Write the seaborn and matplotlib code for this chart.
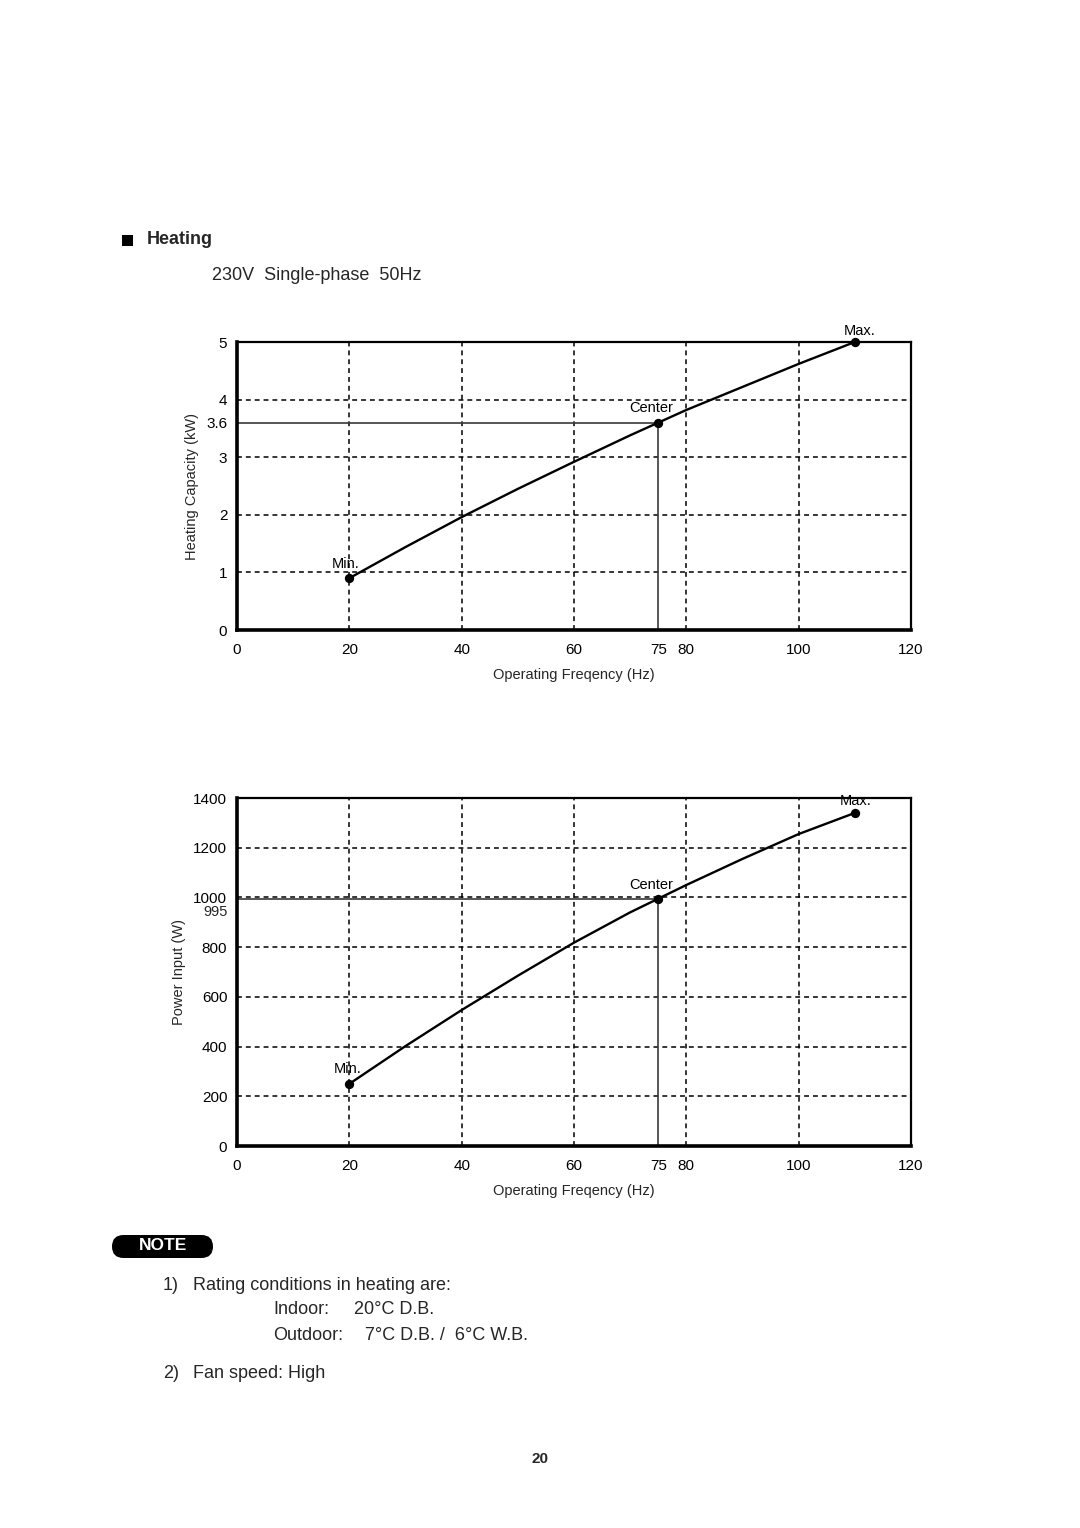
import numpy as np
import pandas as pd
import matplotlib
matplotlib.use("Agg")
import matplotlib.pyplot as plt
import seaborn as sns
from matplotlib.patches import Rectangle, FancyBboxPatch

# ---------------- data ----------------
freq_curve = [20, 30, 40, 50, 60, 70, 75, 80, 90, 100, 110]
capacity_curve = [0.90, 1.44, 1.96, 2.45, 2.92, 3.38, 3.60, 3.82, 4.22, 4.62, 5.00]
power_curve = [250, 402, 547, 685, 818, 940, 995, 1050, 1155, 1255, 1340]

point_labels = ["Min.", "Center", "Max."]
point_freq = [20, 75, 110]
point_capacity = [0.90, 3.60, 5.00]
point_power = [250, 995, 1340]

x_ticks = [0, 20, 40, 60, 75, 80, 100, 120]
x_grid = [20, 40, 60, 80, 100]
cap_ticks = [0, 1, 2, 3, 3.6, 4, 5]
cap_tick_labels = ["0", "1", "2", "3", "3.6", "4", "5"]
cap_grid = [1, 2, 3, 4]
power_ticks = [0, 200, 400, 600, 800, 1000, 1200, 1400]
power_tick_labels = ["0", "200", "400", "600", "800", "1000", "1200", "1400"]
power_grid = [200, 400, 600, 800, 1000, 1200]

# ---------------- style ----------------
sns.set_style("white")
plt.rcParams['font.family'] = ['Liberation Sans', 'DejaVu Sans']

W, H = 1080, 1528
fig = plt.figure(figsize=(W / 100, H / 100), dpi=100)


def fx(x):
    return x / W


def fy(y):
    return 1 - y / H


DASH = (0, (3.2, 2.6))


def draw_panel(ax, curve_y, pts_y, ylim, yticks, yticklabels, ygrid, ylabel, offsets):
    ax.set_xlim(0, 120)
    ax.set_ylim(*ylim)
    for gx in x_grid:
        ax.axvline(gx, color='black', lw=1.1, ls=DASH, zorder=1)
    for gy in ygrid:
        ax.axhline(gy, color='black', lw=1.1, ls=DASH, zorder=1)
    cx, cy = point_freq[1], pts_y[1]
    ax.plot([0, cx], [cy, cy], color='#3a3a3a', lw=1.2, zorder=2)
    ax.plot([cx, cx], [ylim[0], cy], color='#3a3a3a', lw=1.2, zorder=2)
    df = pd.DataFrame({'f': freq_curve, 'v': curve_y})
    sns.lineplot(data=df, x='f', y='v', ax=ax, color='black', lw=1.7, zorder=3)
    sns.scatterplot(x=point_freq, y=pts_y, ax=ax, color='black', s=45,
                    edgecolor='black', linewidth=0, zorder=5, clip_on=False)
    for lab, px_, py_, off in zip(point_labels, point_freq, pts_y, offsets):
        ax.annotate(lab, xy=(px_, py_), xytext=off, textcoords='offset pixels',
                    ha='center', va='center', fontsize=10.5, color='black')
    ax.set_xticks(x_ticks)
    ax.set_xticklabels([str(t) for t in x_ticks])
    ax.set_yticks(yticks)
    ax.set_yticklabels(yticklabels)
    ax.tick_params(axis='both', direction='in', length=3, width=1, labelsize=11,
                   colors='black')
    ax.tick_params(axis='x', pad=9)
    ax.tick_params(axis='y', pad=7)
    ax.set_xlabel("Operating Freqency (Hz)", fontsize=10.5, labelpad=8)
    ax.set_ylabel(ylabel, fontsize=10.5, labelpad=5)
    for side in ['left', 'bottom']:
        ax.spines[side].set_linewidth(2.6)
        ax.spines[side].set_color('black')
    for side in ['top', 'right']:
        ax.spines[side].set_linewidth(1.6)
        ax.spines[side].set_color('black')


# top panel
ax1 = fig.add_axes([fx(237), fy(630), (911 - 237) / W, (630 - 342) / H])
draw_panel(ax1, capacity_curve, point_capacity, (0, 5), cap_ticks, cap_tick_labels,
           cap_grid, "Heating Capacity (kW)",
           [(-4, 14), (-7, 15), (5, 11)])

# bottom panel
ax2 = fig.add_axes([fx(237), fy(1146), (911 - 237) / W, (1146 - 798) / H])
draw_panel(ax2, power_curve, point_power, (0, 1400), power_ticks, power_tick_labels,
           power_grid, "Power Input (W)",
           [(-2, 15), (-7, 14), (1, 12)])
ax2.annotate(str(point_power[1]), xy=(0, point_power[1]),
             xycoords=('axes fraction', 'data'), xytext=(-9, -13),
             textcoords='offset pixels', ha='right', va='center', fontsize=10.5)

# ---------------- page texts ----------------
fig.patches.append(Rectangle((122 / 100, (H - 246) / 100), 0.11, 0.11,
                             transform=fig.dpi_scale_trans, fc='black', ec='none'))
fig.text(fx(147), fy(240), "Heating", fontsize=13, fontweight='bold',
         ha='left', va='center')
fig.text(fx(212), fy(276), "230V  Single-phase  50Hz", fontsize=13,
         ha='left', va='center')

fig.patches.append(FancyBboxPatch((112 / 100, (H - 1258) / 100), 1.01, 0.23,
                                  boxstyle="round,pad=0,rounding_size=0.115",
                                  transform=fig.dpi_scale_trans, fc='black', ec='none'))
fig.text(fx(163), fy(1246), "NOTE", fontsize=12.5, fontweight='bold', color='white',
         ha='center', va='center')

fig.text(fx(163), fy(1285), "1)", fontsize=13, ha='left', va='center')
fig.text(fx(193), fy(1285), "Rating conditions in heating are:", fontsize=13,
         ha='left', va='center')
fig.text(fx(273), fy(1310), "Indoor:", fontsize=13, ha='left', va='center')
fig.text(fx(354), fy(1310), "20°C D.B.", fontsize=13, ha='left', va='center')
fig.text(fx(273), fy(1336), "Outdoor:", fontsize=13, ha='left', va='center')
fig.text(fx(365), fy(1336), "7°C D.B. /  6°C W.B.", fontsize=13, ha='left', va='center')
fig.text(fx(163), fy(1374), "2)", fontsize=13, ha='left', va='center')
fig.text(fx(193), fy(1374), "Fan speed: High", fontsize=13, ha='left', va='center')

fig.text(fx(540), fy(1459), "20", fontsize=11, fontweight='bold', ha='center', va='center')

fig.savefig("out.png", dpi=100, facecolor='white')
